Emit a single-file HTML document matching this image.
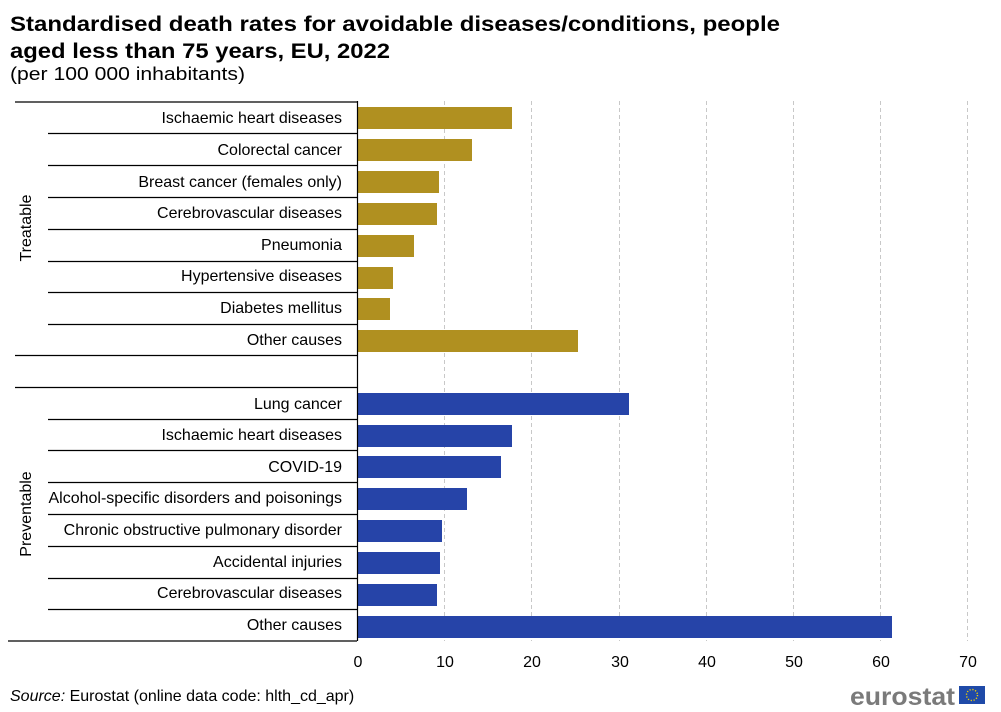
<!DOCTYPE html>
<html><head><meta charset="utf-8"><style>
html,body{margin:0;padding:0;background:#fff;}
svg{display:block;font-family:"Liberation Sans",Arial,sans-serif;}
</style></head><body>
<svg width="1001" height="712" viewBox="0 0 1001 712" xmlns="http://www.w3.org/2000/svg">
<text x="10" y="31" font-size="21" font-weight="bold" fill="#000" textLength="770" lengthAdjust="spacingAndGlyphs">Standardised death rates for avoidable diseases/conditions, people</text>
<text x="10" y="58" font-size="21" font-weight="bold" fill="#000" textLength="380" lengthAdjust="spacingAndGlyphs">aged less than 75 years, EU, 2022</text>
<text x="10" y="80" font-size="18" fill="#000" textLength="235" lengthAdjust="spacingAndGlyphs">(per 100 000 inhabitants)</text>
<g stroke="#c8c8c8" stroke-width="1" stroke-dasharray="4,3">
<line x1="444.5" y1="101" x2="444.5" y2="641"/>
<line x1="531.5" y1="101" x2="531.5" y2="641"/>
<line x1="619.5" y1="101" x2="619.5" y2="641"/>
<line x1="706.5" y1="101" x2="706.5" y2="641"/>
<line x1="793.5" y1="101" x2="793.5" y2="641"/>
<line x1="880.5" y1="101" x2="880.5" y2="641"/>
<line x1="967.5" y1="101" x2="967.5" y2="641"/>
</g>
<g fill="#b09020">
<rect x="357" y="107" width="155" height="22"/>
<rect x="357" y="139" width="115" height="22"/>
<rect x="357" y="171" width="82" height="22"/>
<rect x="357" y="203" width="80" height="22"/>
<rect x="357" y="235" width="57" height="22"/>
<rect x="357" y="267" width="36" height="22"/>
<rect x="357" y="298" width="33" height="22"/>
<rect x="357" y="330" width="221" height="22"/>
</g>
<g fill="#2644a8">
<rect x="357" y="393" width="272" height="22"/>
<rect x="357" y="425" width="155" height="22"/>
<rect x="357" y="456" width="144" height="22"/>
<rect x="357" y="488" width="110" height="22"/>
<rect x="357" y="520" width="85" height="22"/>
<rect x="357" y="552" width="83" height="22"/>
<rect x="357" y="584" width="80" height="22"/>
<rect x="357" y="616" width="535" height="22"/>
</g>
<g stroke="#000" stroke-width="1.2">
<line x1="357.5" y1="101" x2="357.5" y2="641"/>
<line x1="15" y1="102" x2="357" y2="102"/>
<line x1="48" y1="133.5" x2="357" y2="133.5"/>
<line x1="48" y1="165.5" x2="357" y2="165.5"/>
<line x1="48" y1="197.5" x2="357" y2="197.5"/>
<line x1="48" y1="229.5" x2="357" y2="229.5"/>
<line x1="48" y1="261.5" x2="357" y2="261.5"/>
<line x1="48" y1="292.5" x2="357" y2="292.5"/>
<line x1="48" y1="324.5" x2="357" y2="324.5"/>
<line x1="15" y1="355.5" x2="357" y2="355.5"/>
<line x1="15" y1="387.5" x2="357" y2="387.5"/>
<line x1="48" y1="419.5" x2="357" y2="419.5"/>
<line x1="48" y1="450.5" x2="357" y2="450.5"/>
<line x1="48" y1="482.5" x2="357" y2="482.5"/>
<line x1="48" y1="514.5" x2="357" y2="514.5"/>
<line x1="48" y1="546.5" x2="357" y2="546.5"/>
<line x1="48" y1="578.5" x2="357" y2="578.5"/>
<line x1="48" y1="609.5" x2="357" y2="609.5"/>
<line x1="8" y1="641" x2="357" y2="641"/>
</g>
<g font-size="16" fill="#000" text-anchor="end">
<text x="342" y="123">Ischaemic heart diseases</text>
<text x="342" y="155">Colorectal cancer</text>
<text x="342" y="187">Breast cancer (females only)</text>
<text x="342" y="218">Cerebrovascular diseases</text>
<text x="342" y="250">Pneumonia</text>
<text x="342" y="281">Hypertensive diseases</text>
<text x="342" y="313">Diabetes mellitus</text>
<text x="342" y="345">Other causes</text>
<text x="342" y="409">Lung cancer</text>
<text x="342" y="440">Ischaemic heart diseases</text>
<text x="342" y="472">COVID-19</text>
<text x="342" y="503">Alcohol-specific disorders and poisonings</text>
<text x="342" y="535">Chronic obstructive pulmonary disorder</text>
<text x="342" y="567">Accidental injuries</text>
<text x="342" y="598">Cerebrovascular diseases</text>
<text x="342" y="630">Other causes</text>
</g>
<text transform="translate(31,228) rotate(-90)" font-size="16" text-anchor="middle">Treatable</text>
<text transform="translate(31,514) rotate(-90)" font-size="16" text-anchor="middle">Preventable</text>
<g font-size="16" text-anchor="middle">
<text x="358" y="667">0</text>
<text x="445" y="667">10</text>
<text x="532" y="667">20</text>
<text x="620" y="667">30</text>
<text x="707" y="667">40</text>
<text x="794" y="667">50</text>
<text x="881" y="667">60</text>
<text x="968" y="667">70</text>
</g>
<text x="10" y="701" font-size="16"><tspan font-style="italic">Source:</tspan> Eurostat (online data code: hlth_cd_apr)</text>
<text x="850" y="705" font-size="25" font-weight="bold" fill="#7a7a7a" textLength="105" lengthAdjust="spacingAndGlyphs">eurostat</text>
<rect x="959" y="686" width="26" height="18" fill="#1f4aa8"/>
<circle cx="972" cy="695" r="5.5" fill="none" stroke="#f5d000" stroke-width="1.4" stroke-dasharray="1.2,1.7"/>
</svg>
</body></html>
